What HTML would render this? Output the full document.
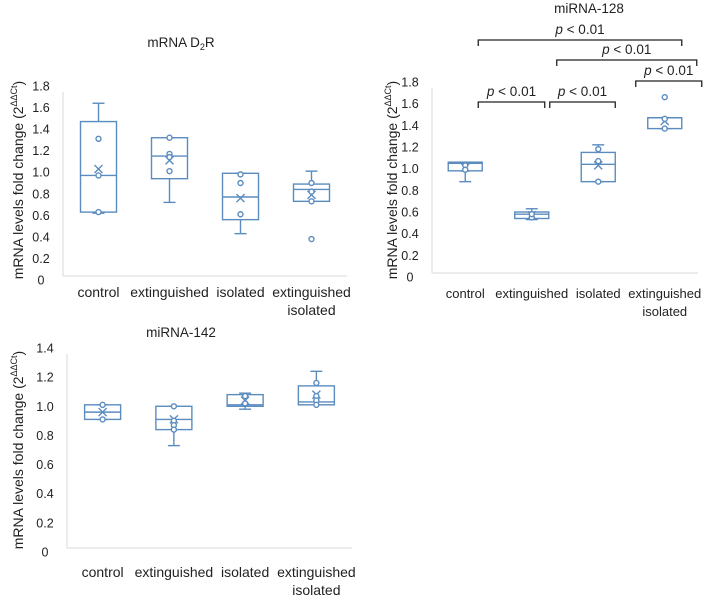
<!DOCTYPE html>
<html><head><meta charset="utf-8"><style>
html,body{margin:0;padding:0;background:#fff;}
svg{display:block;font-family:"Liberation Sans",Arial,sans-serif;}
</style></head><body>
<svg id="fig" width="709" height="609" viewBox="0 0 709 609" xmlns="http://www.w3.org/2000/svg"></svg>
<script>
const categories = ["control","extinguished","isolated","extinguished isolated"];
const ticksA = [0,0.2,0.4,0.6,0.8,1.0,1.2,1.4,1.6,1.8];
const tickLabelsA = ["0","0.2","0.4","0.6","0.8","1.0","1.2","1.4","1.6","1.8"];
const ticksC = [0,0.2,0.4,0.6,0.8,1.0,1.2,1.4];
const tickLabelsC = ["0","0.2","0.4","0.6","0.8","1.0","1.2","1.4"];
// [whiskerLow, q1, median, q3, whiskerHigh, mean]
const d2rStats = [[0.62,0.63,0.97,1.47,1.64,1.03],[0.72,0.94,1.15,1.32,1.32,1.11],[0.43,0.56,0.77,0.99,0.99,0.76],[0.73,0.73,0.84,0.89,1.01,0.79]];
const d2rPoints = [[1.31,0.97,0.63],[1.32,1.17,1.14,1.01],[0.98,0.90,0.61],[0.90,0.82,0.73,0.38]];
const m128Stats = [[0.88,0.98,1.05,1.06,1.06,1.01],[0.53,0.54,0.58,0.60,0.63,0.57],[0.88,0.88,1.04,1.15,1.22,1.03],[1.37,1.37,1.47,1.47,1.47,1.44]];
const m128Points = [[1.03,0.99],[0.55,0.58],[1.18,1.07,0.88],[1.66,1.46,1.37]];
const m142Stats = [[0.91,0.91,0.96,1.01,1.01,0.96],[0.73,0.84,0.91,1.00,1.00,0.91],[0.98,1.00,1.01,1.08,1.09,1.04],[1.01,1.01,1.03,1.14,1.24,1.08]];
const m142Points = [[1.01,0.91],[1.00,0.90,0.87,0.84],[1.07,1.02],[1.16,1.07,1.04,1.01]];
// [fromCategory, toCategory, level]
const m128Brackets = [[0,3,0],[1,3,1],[3,3,2],[0,1,3],[1,2,3]];

const NS="http://www.w3.org/2000/svg";
const svg=document.getElementById('fig');
const COL="#5b8cc0";
function el(tag,attrs,parent){const e=document.createElementNS(NS,tag);for(const k in attrs)e.setAttribute(k,attrs[k]);(parent||svg).appendChild(e);return e;}
function txt(s,x,y,attrs,parent){const t=el('text',Object.assign({x:x,y:y,'font-size':12,fill:'#222','text-anchor':'middle'},attrs),parent);t.textContent=s;return t;}

function chart(cfg){
  const g=el('g',{});
  
  
  const yMax=cfg.ticks[cfg.ticks.length-1];
  const Y=v=>cfg.y0-(v/yMax)*(cfg.y0-cfg.yTop);
  const band=(cfg.x1-cfg.x0)/categories.length;
  const X=i=>cfg.x0+band*(i+0.5);
  const t=txt(cfg.title,cfg.titleX,cfg.titleY,{'font-size':13.5},g);
  
  if(cfg.sub){t.textContent='mRNA D';const ts=el('tspan',{'font-size':9,dy:3},t);ts.textContent='2';const ts2=el('tspan',{dy:-3},t);ts2.textContent='R';}
  const ax=el('line',{x1:cfg.x0,x2:cfg.x1,y1:Y(0)-4,y2:Y(0)-4,stroke:'#d9d9d9'},g);
  
  const ay=el('line',{x1:cfg.x0,x2:cfg.x0,y1:cfg.yTop+6,y2:Y(0)-4,stroke:'#d9d9d9'},g);
  
  cfg.ticks.forEach((v,i)=>{const l=txt(cfg.tickLabels[i],cfg.x0-22,Y(v)+4.5,{'font-size':12.5},g);
    });
  const yt=txt('mRNA levels fold change (2',0,0,{'font-size':14,transform:`translate(${cfg.ytX},${cfg.ytY}) rotate(-90)`},g);
  const sp=el('tspan',{'font-size':9,dy:-6},yt);sp.textContent='ΔΔCt';
  const sp2=el('tspan',{dy:6},yt);sp2.textContent=')';
  
  categories.forEach((c,i)=>{
    const parts=c==='extinguished isolated'?['extinguished','isolated']:[c];
    parts.forEach((p,j)=>{const l=txt(p,X(i),cfg.labY+j*18,{'font-size':cfg.labFs},g);
      });
    const s=cfg.stats[i];const hw=cfg.hw;const cx=X(i);
    const bg=el('g',{stroke:COL,fill:'none','stroke-width':1.4},g);
    
    el('line',{x1:cx,x2:cx,y1:Y(s[3]),y2:Y(s[4])},bg);
    el('line',{x1:cx-6,x2:cx+6,y1:Y(s[4]),y2:Y(s[4])},bg);
    el('line',{x1:cx,x2:cx,y1:Y(s[1]),y2:Y(s[0])},bg);
    el('line',{x1:cx-6,x2:cx+6,y1:Y(s[0]),y2:Y(s[0])},bg);
    el('rect',{x:cx-hw,y:Y(s[3]),width:2*hw,height:Math.max(0,Y(s[1])-Y(s[3])),fill:'#fff'},bg);
    el('line',{x1:cx-hw,x2:cx+hw,y1:Y(s[2]),y2:Y(s[2])},bg);
    const m=Y(s[5]);
    el('path',{d:`M${cx-4},${m-4}L${cx+4},${m+4}M${cx+4},${m-4}L${cx-4},${m+4}`},bg);
    cfg.points[i].forEach(v=>el('circle',{cx:cx,cy:Y(v),r:2.5,fill:'#fff'},bg));
  });
  if(cfg.brackets){
    const levY=[40,60,81,102];
    cfg.brackets.forEach(b=>{
      const bg=el('g',{},g);
      
      let xa,xb;
      if(b[0]===b[1]){xa=X(b[0])-29;xb=X(b[0])+37;}
      else{xa=X(b[0])+13;xb=X(b[1])+(b[1]===3?(b[2]===0?17:32):13);
        if(b[0]===1&&b[2]===3)xa=X(1)+18;if(b[0]===1&&b[2]===1)xa=X(1)+25;if(b[1]===2)xb=X(2)+17;}
      const y=levY[b[2]];
      el('path',{d:`M${xa},${y+6}V${y}H${xb}V${y+6}`,stroke:'#222',fill:'none','stroke-width':1.3},bg);
      const l=txt('',(xa+xb)/2,y-6,{'font-size':13.5},bg);
      const a=el('tspan',{'font-style':'italic'},l);a.textContent='p';
      const c2=el('tspan',{},l);c2.textContent=' < 0.01';
    });
  }
}
chart({name:'chart-d2r',title:'',sub:true,titleX:181,titleY:47,x0:63,x1:347,y0:280,yTop:86,ticks:ticksA,tickLabels:tickLabelsA,stats:d2rStats,points:d2rPoints,hw:18,ytX:23,ytY:180,labY:297,labFs:14});
chart({name:'chart-mirna-128',title:'miRNA-128',titleX:589,titleY:13,x0:432,x1:698,y0:277,yTop:82,ticks:ticksA,tickLabels:tickLabelsA,stats:m128Stats,points:m128Points,hw:17,ytX:397,ytY:180,labY:298,labFs:13,brackets:m128Brackets});
chart({name:'chart-mirna-142',title:'miRNA-142',titleX:181,titleY:337,x0:67,x1:352,y0:552,yTop:348,ticks:ticksC,tickLabels:tickLabelsC,stats:m142Stats,points:m142Points,hw:18,ytX:23,ytY:450,labY:577,labFs:14});
</script>
</body></html>
